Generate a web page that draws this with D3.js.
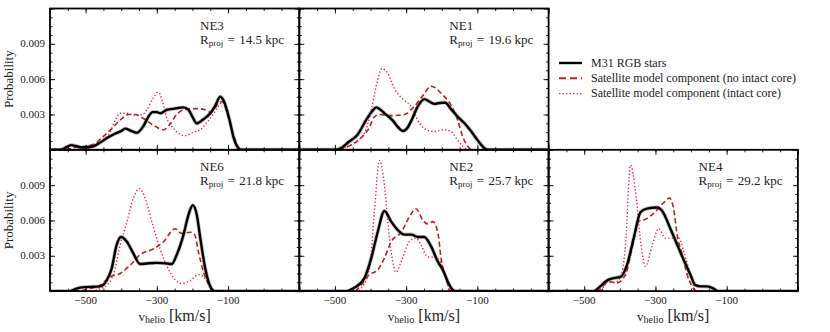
<!DOCTYPE html>
<html>
<head>
<meta charset="utf-8">
<script src="https://cdn.jsdelivr.net/npm/d3@7"></script>
<style>
    body { margin: 0; background: #fff; }
</style>
</head>
<body>
<script>

// -- data --

var xDomain = [-600, 100];
var yDomain = [0, 0.012];
var xTickLabels = [-500, -300, -100];
var yTickLabels = [0.003, 0.006, 0.009];

var fieldNames = ["NE3", "NE1", "NE6", "NE2", "NE4"];
var fieldRproj = ["14.5", "19.6", "21.8", "25.7", "29.2"];

var legendLabels = ["M31 RGB stars",
    "Satellite model component (no intact core)",
    "Satellite model component (intact core)"];

// [v_helio, probability]
var ne3Rgb = [[-600,0],[-570,0],[-555,0.0002],[-541,0.0004],[-525,0.0003],[-510,0.0002],[-478,0.0003],[-460,0.0006],[-440,0.001],[-422,0.0013],[-400,0.0016],[-389,0.0018],[-372,0.0016],[-356,0.00145],[-338,0.002],[-322,0.0029],[-312,0.0032],[-300,0.0032],[-290,0.0031],[-272,0.0034],[-250,0.0035],[-225,0.0036],[-211,0.0034],[-200,0.0028],[-188,0.00225],[-169,0.0026],[-150,0.0031],[-135,0.0038],[-122,0.0045],[-110,0.004],[-100,0.003],[-94,0.0023],[-85,0.0011],[-75,0.0003],[-65,0],[100,0]];
var ne3NoCore = [[-600,0],[-560,0],[-530,0.0002],[-500,0.0003],[-475,0.0005],[-459,0.0009],[-430,0.0017],[-400,0.0026],[-380,0.003],[-360,0.003],[-340,0.0027],[-310,0.0021],[-281,0.0017],[-265,0.0021],[-244,0.003],[-225,0.0034],[-188,0.0035],[-165,0.0034],[-148,0.0032],[-128,0.0039],[-117,0.0041],[-105,0.0034],[-94,0.0022],[-82,0.001],[-70,0.0002],[-60,0],[100,0]];
var ne3Core = [[-600,0],[-540,0],[-500,0.0001],[-475,0.0003],[-459,0.0007],[-431,0.0015],[-417,0.0025],[-403,0.0031],[-384,0.0031],[-360,0.0029],[-340,0.003],[-328,0.0034],[-310,0.0044],[-296,0.0049],[-285,0.0042],[-272,0.0027],[-258,0.002],[-234,0.0013],[-220,0.0012],[-197,0.0015],[-178,0.0017],[-160,0.0023],[-140,0.0031],[-122,0.0039],[-113,0.0041],[-103,0.0035],[-94,0.0022],[-84,0.001],[-75,0.0003],[-65,0],[100,0]];

var ne1Rgb = [[-600,0],[-500,0],[-480,0.0002],[-464,0.0006],[-436,0.0013],[-413,0.0025],[-395,0.0033],[-384,0.0036],[-372,0.0034],[-361,0.0031],[-338,0.0025],[-322,0.0019],[-310,0.0016],[-298,0.0018],[-285,0.0025],[-267,0.0037],[-249,0.0043],[-235,0.0041],[-220,0.0039],[-200,0.004],[-190,0.004],[-175,0.0035],[-155,0.0028],[-136,0.00225],[-117,0.00155],[-99,0.0008],[-80,0.00014],[-70,0],[100,0]];
var ne1NoCore = [[-600,0],[-500,0],[-480,0.0001],[-455,0.0004],[-427,0.001],[-405,0.0018],[-389,0.0028],[-375,0.003],[-342,0.0029],[-305,0.003],[-277,0.0037],[-253,0.0046],[-230,0.0054],[-215,0.0052],[-202,0.0048],[-174,0.0038],[-155,0.0025],[-141,0.0011],[-127,0.0003],[-115,0],[100,0]];
var ne1Core = [[-600,0],[-490,0],[-470,0.0002],[-446,0.0006],[-417,0.0014],[-398,0.0034],[-384,0.0054],[-368,0.0069],[-352,0.0065],[-333,0.0052],[-305,0.0042],[-286,0.0037],[-267,0.0025],[-249,0.0018],[-220,0.00155],[-195,0.0017],[-174,0.00155],[-155,0.0008],[-141,0.0003],[-125,0],[100,0]];

var ne6Rgb = [[-600,0],[-545,0],[-534,0.0001],[-515,0.0003],[-478,0.00037],[-459,0.0004],[-441,0.0009],[-427,0.0019],[-413,0.0039],[-401,0.0046],[-384,0.0042],[-366,0.0032],[-347,0.0023],[-328,0.00235],[-300,0.0024],[-272,0.00235],[-258,0.0023],[-244,0.0031],[-225,0.0048],[-211,0.0065],[-199,0.0073],[-188,0.0065],[-178,0.0045],[-164,0.0019],[-150,0.0004],[-138,0],[100,0]];
var ne6NoCore = [[-600,0],[-530,0],[-488,0.0002],[-459,0.0005],[-431,0.0012],[-403,0.0015],[-375,0.0022],[-347,0.0031],[-309,0.0036],[-281,0.0042],[-249,0.0053],[-230,0.0049],[-206,0.005],[-194,0.0048],[-183,0.0033],[-169,0.0016],[-150,0.0004],[-135,0],[100,0]];
var ne6Core = [[-600,0],[-490,0],[-459,0.0002],[-440,0.0005],[-422,0.0014],[-403,0.0039],[-384,0.0059],[-366,0.0079],[-349,0.0087],[-333,0.0079],[-314,0.0059],[-291,0.0036],[-263,0.0016],[-230,0.00065],[-206,0.0009],[-183,0.0014],[-169,0.0012],[-150,0.0005],[-136,0],[100,0]];

var ne2Rgb = [[-600,0],[-469,0],[-445,0.0003],[-417,0.0011],[-398,0.0028],[-380,0.005],[-361,0.0068],[-342,0.0059],[-324,0.0052],[-305,0.0048],[-286,0.0048],[-267,0.0046],[-249,0.0046],[-230,0.0038],[-211,0.0025],[-197,0.0018],[-183,0.0008],[-169,0.0001],[-160,0],[100,0]];
var ne2NoCore = [[-600,0],[-445,0],[-427,0.0005],[-403,0.0014],[-380,0.0018],[-361,0.0028],[-342,0.0042],[-314,0.005],[-291,0.0063],[-272,0.007],[-253,0.006],[-239,0.0057],[-225,0.0059],[-211,0.005],[-202,0.0028],[-188,0.0011],[-175,0],[100,0]];
var ne2Core = [[-600,0],[-440,0],[-422,0.0004],[-403,0.0019],[-389,0.0068],[-375,0.0111],[-361,0.009],[-347,0.0045],[-328,0.0016],[-314,0.0025],[-291,0.0042],[-272,0.0045],[-258,0.0039],[-239,0.0029],[-220,0.0029],[-202,0.0024],[-188,0.0011],[-178,0],[100,0]];

var ne4Rgb = [[-600,0],[-473,0],[-455,0.0004],[-436,0.0009],[-417,0.0011],[-398,0.0012],[-380,0.0022],[-361,0.0045],[-342,0.0067],[-324,0.007],[-295,0.0071],[-281,0.0068],[-258,0.0053],[-230,0.0033],[-202,0.0014],[-188,0.0005],[-173,0.0004],[-155,0.0004],[-136,0.0002],[-125,0],[100,0]];
var ne4NoCore = [[-600,0],[-462,0],[-445,0.0005],[-427,0.0008],[-408,0.0007],[-384,0.0014],[-366,0.0036],[-347,0.0059],[-328,0.0061],[-305,0.0066],[-277,0.0075],[-260,0.0079],[-249,0.007],[-239,0.0048],[-225,0.0031],[-211,0.0014],[-197,0.0004],[-185,0],[100,0]];
var ne4Core = [[-600,0],[-455,0],[-436,0.0008],[-417,0.0007],[-398,0.0012],[-384,0.0039],[-370,0.0107],[-356,0.0085],[-342,0.0043],[-328,0.0021],[-309,0.0039],[-291,0.0053],[-272,0.0045],[-253,0.0045],[-234,0.0045],[-220,0.0033],[-202,0.0014],[-188,0.0001],[-180,0],[100,0]];

var rgbSeries = [ne3Rgb, ne1Rgb, ne6Rgb, ne2Rgb, ne4Rgb];
var noCoreSeries = [ne3NoCore, ne1NoCore, ne6NoCore, ne2NoCore, ne4NoCore];
var coreSeries = [ne3Core, ne1Core, ne6Core, ne2Core, ne4Core];


// -- layout --

var width = 830;
var height = 332;

var left = 50, top0 = 8.5;
var pw = 249.3, ph = 141.3;
var cells = [[0, 0], [1, 0], [0, 1], [1, 1], [2, 1]];

var serif = "Liberation Serif";
var darkRed = "#b22222";
var crimson = "#e51d48";

var svg = d3.select("body").append("svg")
    .attr("width", width)
    .attr("height", height);

var x = d3.scaleLinear().domain(xDomain).range([0, pw]);
var y = d3.scaleLinear().domain(yDomain).range([ph, 0]);

var line = d3.line()
    .x(function (d) { return x(d[0]); })
    .y(function (d) { return y(d[1]); })
    .curve(d3.curveMonotoneX);

function minus(v) {
    return v < 0 ? "\u2212" + Math.abs(v) : "" + v;
}

function range(a, b, step) {
    var out = [];
    for (var i = 0; a + i * step <= b + 1e-9; i++) out.push(+(a + i * step).toFixed(6));
    return out;
}

var xMinor = range(-600, 100, 50);
var yMinor = range(0, 0.012, 0.00075);
var xMajor = range(-500, 100, 200);
var yMajor = range(0, 0.012, 0.003);

function ticks(g, axis, values, len) {
    g.call(axis.tickValues(values).tickSize(len).tickFormat(""));
    g.select(".domain").remove();
    g.selectAll(".tick line").style("stroke", "black").style("stroke-width", 0.9);
}

function label(g, px, py, size) {
    return g.append("text")
        .attr("x", px).attr("y", py)
        .style("font-family", serif)
        .style("font-size", size + "px")
        .style("fill", "#222");
}

function drawPanel(i) {
    var col = cells[i][0], row = cells[i][1];
    var g = svg.append("g")
        .attr("transform", "translate(" + (left + col * pw) + "," + (top0 + row * ph) + ")");

    var clipId = "clip" + i;
    g.append("clipPath").attr("id", clipId)
        .append("rect").attr("width", pw).attr("height", ph);

    var plot = g.append("g").attr("clip-path", "url(#" + clipId + ")");

    // grey band around the RGB curve
    plot.append("path")
        .datum(rgbSeries[i])
        .attr("d", line)
        .style("fill", "none")
        .style("stroke", "#c4c4c4")
        .style("stroke-width", 4)
        .style("stroke-linejoin", "round");

    plot.append("path")
        .datum(noCoreSeries[i])
        .attr("d", line)
        .style("fill", "none")
        .style("stroke", darkRed)
        .style("stroke-width", 1.6)
        .style("stroke-dasharray", "5,3");

    plot.append("path")
        .datum(coreSeries[i])
        .attr("d", line)
        .style("fill", "none")
        .style("stroke", crimson)
        .style("stroke-width", 1.4)
        .style("stroke-dasharray", "1.3,2.2");

    plot.append("path")
        .datum(rgbSeries[i])
        .attr("d", line)
        .style("fill", "none")
        .style("stroke", "black")
        .style("stroke-width", 2.4)
        .style("stroke-linejoin", "round");

    // ticks pointing inwards on all sides
    ticks(g.append("g").attr("transform", "translate(0," + ph + ")"), d3.axisTop(x), xMinor, 2.5);
    ticks(g.append("g").attr("transform", "translate(0," + ph + ")"), d3.axisTop(x), xMajor, 5);
    ticks(g.append("g"), d3.axisBottom(x), xMinor, 2.5);
    ticks(g.append("g"), d3.axisBottom(x), xMajor, 5);
    ticks(g.append("g"), d3.axisRight(y), yMinor, 2.5);
    ticks(g.append("g"), d3.axisRight(y), yMajor, 5);
    ticks(g.append("g").attr("transform", "translate(" + pw + ",0)"), d3.axisLeft(y), yMinor, 2.5);
    ticks(g.append("g").attr("transform", "translate(" + pw + ",0)"), d3.axisLeft(y), yMajor, 5);

    g.append("rect")
        .attr("width", pw).attr("height", ph)
        .style("fill", "none")
        .style("stroke", "black")
        .style("stroke-width", 1.8);

    // field name and projected radius
    label(g, 150, 21.5, 13).text(fieldNames[i]);

    var t = label(g, 150, 35, 13);
    t.append("tspan").text("R");
    t.append("tspan").style("font-size", "9px").attr("dy", 2.5).text("proj");
    t.append("tspan").attr("dy", -2.5).text("\u2004=\u2004" + fieldRproj[i] + " kpc");

    if (col == 0) {
        yTickLabels.forEach(function (v) {
            label(g, -5, y(v) + 3.5, 11)
                .attr("text-anchor", "end")
                .text(v.toFixed(3));
        });
        label(g, 0, 0, 13)
            .attr("transform", "translate(-37," + (ph / 2) + ") rotate(-90)")
            .attr("text-anchor", "middle")
            .text("Probability");
    }

    if (row == 1) {
        xTickLabels.forEach(function (v) {
            label(g, x(v), ph + 13, 11)
                .attr("text-anchor", "middle")
                .text(minus(v));
        });
        var lab = label(g, pw / 2, ph + 30, 13)
            .attr("text-anchor", "middle");
        lab.append("tspan").text("v");
        lab.append("tspan").style("font-size", "10px").attr("dy", 2).text("helio");
        lab.append("tspan").style("font-size", "16px").attr("dy", -2).text(" [km/s]");
    }
}

d3.range(fieldNames.length).forEach(drawPanel);

// legend
var legend = svg.append("g").attr("transform", "translate(559,63)");
var legendStyles = [
    {stroke: "black", w: 2.4, dash: null},
    {stroke: darkRed, w: 2, dash: "7,4"},
    {stroke: crimson, w: 1.4, dash: "1.3,2.2"}
];
legendLabels.forEach(function (text, k) {
    var s = legendStyles[k];
    legend.append("line")
        .attr("x1", 0).attr("x2", 23)
        .attr("y1", k * 15.3).attr("y2", k * 15.3)
        .style("stroke", s.stroke)
        .style("stroke-width", s.w)
        .style("stroke-dasharray", s.dash);
    label(legend, 32, k * 15.3 + 3.5, 12).text(text);
});

</script>
</body>
</html>
